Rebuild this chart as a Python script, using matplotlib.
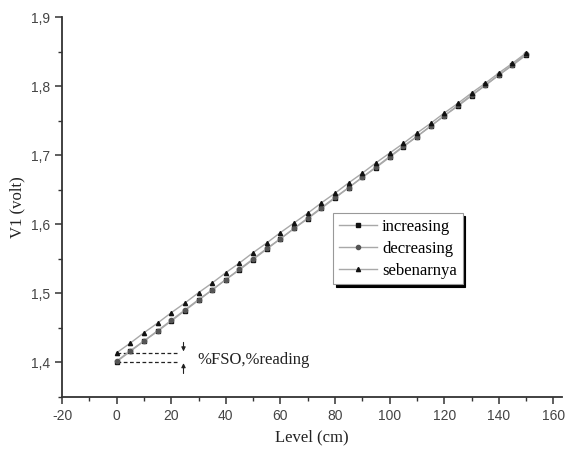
import matplotlib
matplotlib.use("Agg")
import matplotlib.pyplot as plt
from matplotlib.ticker import MultipleLocator, FuncFormatter

# level (cm)
level = [0, 5, 10, 15, 20, 25, 30, 35, 40, 45, 50, 55, 60, 65, 70, 75,
         80, 85, 90, 95, 100, 105, 110, 115, 120, 125, 130, 135, 140, 145, 150]

# V1 (volt)
increasing = [1.401, 1.416, 1.431, 1.445, 1.460, 1.475, 1.490, 1.505, 1.520, 1.534,
              1.549, 1.564, 1.579, 1.594, 1.608, 1.623, 1.638, 1.653, 1.668, 1.682,
              1.697, 1.712, 1.727, 1.742, 1.757, 1.771, 1.786, 1.801, 1.816, 1.830, 1.845]
decreasing = [1.402, 1.417, 1.431, 1.446, 1.461, 1.476, 1.491, 1.505, 1.520, 1.535,
              1.550, 1.565, 1.579, 1.594, 1.609, 1.624, 1.639, 1.653, 1.668, 1.683,
              1.698, 1.713, 1.727, 1.742, 1.757, 1.772, 1.787, 1.801, 1.816, 1.831, 1.846]
sebenarnya = [1.414, 1.428, 1.443, 1.457, 1.472, 1.486, 1.501, 1.515, 1.530, 1.544,
              1.559, 1.573, 1.588, 1.602, 1.616, 1.631, 1.645, 1.660, 1.674, 1.689,
              1.703, 1.717, 1.732, 1.746, 1.761, 1.775, 1.790, 1.804, 1.819, 1.833, 1.848]

serif = "Liberation Serif"
sans = "Liberation Sans"

fig = plt.figure(figsize=(5.69, 4.49), dpi=100)
ax = fig.add_axes([0.109, 0.1158, 0.878, 0.8463])

line_kw = dict(color="#a8a8a8", lw=1.0, markersize=3.0, zorder=3)
ax.plot(level, increasing, marker="s", mfc="#111111", mec="#111111",
        label="increasing", **line_kw)
ax.plot(level, decreasing, marker="o", mfc="#555555", mec="#555555",
        label="decreasing", **line_kw)
ax.plot(level, sebenarnya, marker="^", mfc="#111111", mec="#111111",
        label="sebenarnya", **line_kw)

# %FSO / %reading annotation
ax.plot([0, 23], [sebenarnya[0], sebenarnya[0]], color="#222222", lw=0.9, dashes=(3, 2))
ax.plot([0, 23], [increasing[0], increasing[0]], color="#222222", lw=0.9, dashes=(3, 2))
ax.annotate("", xy=(24.5, sebenarnya[0] + 0.002), xytext=(24.5, 1.429),
            arrowprops=dict(arrowstyle="-|>", color="#222222", lw=0.8,
                            mutation_scale=6, shrinkA=0, shrinkB=0))
ax.annotate("", xy=(24.5, increasing[0] - 0.002), xytext=(24.5, 1.384),
            arrowprops=dict(arrowstyle="-|>", color="#222222", lw=0.8,
                            mutation_scale=6, shrinkA=0, shrinkB=0))
ax.text(29.5, 1.403, "%FSO,%reading", family=serif, fontsize=12,
        va="center", ha="left", color="#222222")

ax.set_xlim(-20, 163)
ax.set_ylim(1.35, 1.9)
ax.xaxis.set_major_locator(MultipleLocator(20))
ax.xaxis.set_minor_locator(MultipleLocator(10))
ax.yaxis.set_major_locator(MultipleLocator(0.1))
ax.yaxis.set_minor_locator(MultipleLocator(0.05))
ax.yaxis.set_major_formatter(FuncFormatter(lambda v, p: f"{v:.1f}".replace(".", ",")))
ax.xaxis.set_major_formatter(FuncFormatter(lambda v, p: f"{v:.0f}"))

for s in ["top", "right"]:
    ax.spines[s].set_visible(False)
for s in ["left", "bottom"]:
    ax.spines[s].set_linewidth(1.3)
    ax.spines[s].set_color("#333333")

ax.tick_params(which="major", direction="out", length=5, width=1.1, color="#333333",
               labelsize=10, labelcolor="#444444")
ax.tick_params(which="minor", direction="out", length=3, width=1.0, color="#333333")
for lab in ax.get_xticklabels() + ax.get_yticklabels():
    lab.set_family(sans)

ax.set_xlabel("Level (cm)", family=serif, fontsize=12, color="#222222", labelpad=5)
ax.set_ylabel("V1 (volt)", family=serif, fontsize=12, color="#222222", labelpad=4)

leg = ax.legend(loc="upper left", bbox_to_anchor=(0.542, 0.484), fancybox=False,
                shadow={"color": "black", "alpha": 1}, framealpha=1,
                edgecolor="#999999", prop={"family": serif, "size": 12},
                handlelength=2.3, labelspacing=0.35, borderpad=0.35,
                handletextpad=0.3, borderaxespad=0)
leg.get_frame().set_linewidth(0.8)

fig.savefig("out.png", dpi=100, facecolor="white")
